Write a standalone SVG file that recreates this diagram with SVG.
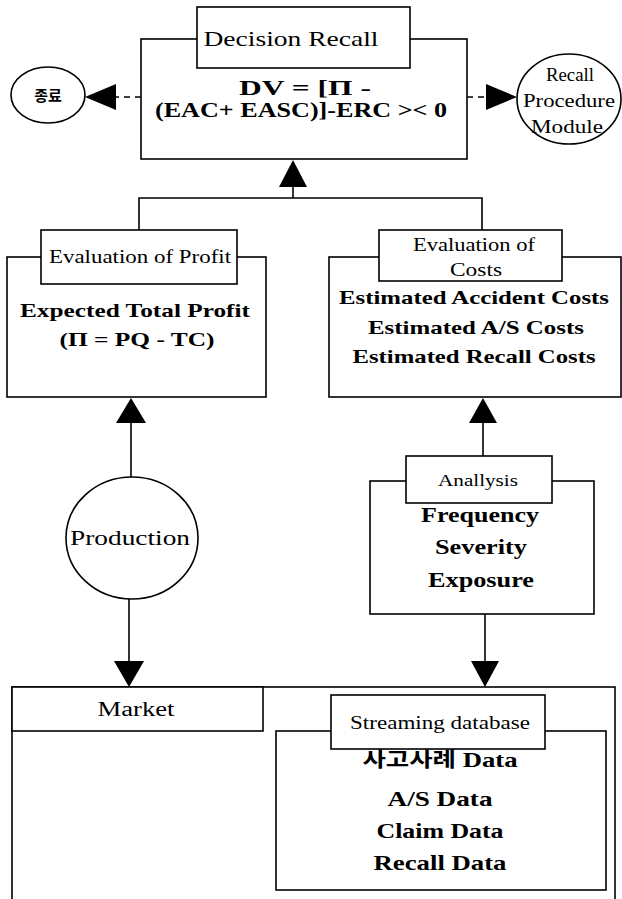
<svg xmlns="http://www.w3.org/2000/svg" width="622" height="899" viewBox="0 0 622 899">
<style>
.box{fill:#fff;stroke:#000;stroke-width:1.6}
.ln{fill:none;stroke:#000;stroke-width:1.6}
.dash{stroke-dasharray:6 5}
.ah{fill:#000;stroke:none}
.t{font-family:"Liberation Serif","Noto Sans CJK KR",serif;fill:#000;text-anchor:middle}
.b{font-weight:bold}
.k{font-family:"Noto Sans CJK KR","Liberation Serif",sans-serif;font-weight:bold}
</style>
<rect width="622" height="899" fill="#fff"/>
<g id="connectors">
  <line class="ln dash" x1="141" y1="97" x2="115" y2="97"/>
  <polygon class="ah" points="85,97 116,84 116,110"/>
  <line class="ln dash" x1="467" y1="97" x2="487" y2="97"/>
  <polygon class="ah" points="517,97 486,84 486,110"/>
  <polyline class="ln" points="139,230 139,198 482,198 482,230"/>
  <line class="ln" x1="293" y1="198" x2="293" y2="185"/>
  <polygon class="ah" points="293,160 279,187 307,187"/>
  <line class="ln" x1="131" y1="477" x2="131" y2="420"/>
  <polygon class="ah" points="131,398 116,423 146,423"/>
  <line class="ln" x1="483" y1="456" x2="483" y2="420"/>
  <polygon class="ah" points="483,398 469,423 497,423"/>
  <line class="ln" x1="129" y1="599" x2="129" y2="663"/>
  <polygon class="ah" points="129,687 114,661 144,661"/>
  <line class="ln" x1="485" y1="614" x2="485" y2="663"/>
  <polygon class="ah" points="485,687 471,661 499,661"/>
</g>
<g id="decision-recall">
  <rect class="box" x="141" y="39" width="326" height="120"/>
  <rect class="box" x="197" y="7" width="213" height="61"/>
  <text class="t" x="291" y="46" font-size="22" textLength="175" lengthAdjust="spacingAndGlyphs">Decision Recall</text>
  <text class="t b" x="305" y="95" font-size="20" textLength="132" lengthAdjust="spacingAndGlyphs">DV =  [Π -</text>
  <text class="t b" x="301" y="117" font-size="20" textLength="292" lengthAdjust="spacingAndGlyphs">(EAC+ EASC)]-ERC &gt;&lt; 0</text>
</g>
<g id="end">
  <ellipse class="box" cx="48" cy="95" rx="37" ry="28"/>
  <text class="t k" x="48" y="101" font-size="15">종료</text>
</g>
<g id="recall-procedure-module">
  <ellipse class="box" cx="569" cy="99" rx="52" ry="45"/>
  <text class="t" x="570" y="81" font-size="18" textLength="48" lengthAdjust="spacingAndGlyphs">Recall</text>
  <text class="t" x="569" y="107" font-size="18" textLength="92" lengthAdjust="spacingAndGlyphs">Procedure</text>
  <text class="t" x="567" y="133" font-size="18" textLength="72" lengthAdjust="spacingAndGlyphs">Module</text>
</g>
<g id="evaluation-profit">
  <rect class="box" x="7" y="257" width="259" height="140"/>
  <rect class="box" x="41" y="230" width="196" height="54"/>
  <text class="t" x="140" y="263" font-size="19" textLength="182" lengthAdjust="spacingAndGlyphs">Evaluation of Profit</text>
  <text class="t b" x="135" y="317" font-size="19" textLength="230" lengthAdjust="spacingAndGlyphs">Expected Total Profit</text>
  <text class="t b" x="137" y="346" font-size="19" textLength="155" lengthAdjust="spacingAndGlyphs">(Π =  PQ  -  TC)</text>
</g>
<g id="evaluation-costs">
  <rect class="box" x="329" y="257" width="292" height="140"/>
  <rect class="box" x="379" y="230" width="183" height="51"/>
  <text class="t" x="474" y="251" font-size="18" textLength="122" lengthAdjust="spacingAndGlyphs">Evaluation of</text>
  <text class="t" x="476" y="276" font-size="18" textLength="52" lengthAdjust="spacingAndGlyphs">Costs</text>
  <text class="t b" x="474" y="304" font-size="19" textLength="270" lengthAdjust="spacingAndGlyphs">Estimated Accident Costs</text>
  <text class="t b" x="476" y="334" font-size="19" textLength="216" lengthAdjust="spacingAndGlyphs">Estimated A/S Costs</text>
  <text class="t b" x="474" y="363" font-size="19" textLength="243" lengthAdjust="spacingAndGlyphs">Estimated Recall Costs</text>
</g>
<g id="production">
  <ellipse class="box" cx="132" cy="538" rx="66" ry="61"/>
  <text class="t" x="130" y="545" font-size="21" textLength="120" lengthAdjust="spacingAndGlyphs">Production</text>
</g>
<g id="analysis">
  <rect class="box" x="370" y="481" width="224" height="133"/>
  <rect class="box" x="406" y="456" width="146" height="47"/>
  <text class="t" x="478" y="486" font-size="17" textLength="80" lengthAdjust="spacingAndGlyphs">Anallysis</text>
  <text class="t b" x="480" y="522" font-size="20" textLength="118" lengthAdjust="spacingAndGlyphs">Frequency</text>
  <text class="t b" x="481" y="554" font-size="20" textLength="92" lengthAdjust="spacingAndGlyphs">Severity</text>
  <text class="t b" x="481" y="587" font-size="20" textLength="106" lengthAdjust="spacingAndGlyphs">Exposure</text>
</g>
<g id="market">
  <rect class="box" x="12" y="687" width="603" height="240"/>
  <rect class="box" x="12" y="687" width="251" height="44"/>
  <text class="t" x="136" y="716" font-size="20" textLength="77" lengthAdjust="spacingAndGlyphs">Market</text>
</g>
<g id="streaming-database">
  <rect class="box" x="276" y="731" width="330" height="159"/>
  <rect class="box" x="331" y="695" width="214" height="54"/>
  <text class="t" x="440" y="729" font-size="18" textLength="180" lengthAdjust="spacingAndGlyphs">Streaming database</text>
  <text class="t b" x="440" y="767" font-size="21" textLength="155" lengthAdjust="spacingAndGlyphs"><tspan class="k" font-size="20">사고사례</tspan> Data</text>
  <text class="t b" x="440" y="806" font-size="21" textLength="105" lengthAdjust="spacingAndGlyphs">A/S Data</text>
  <text class="t b" x="440" y="838" font-size="21" textLength="127" lengthAdjust="spacingAndGlyphs">Claim Data</text>
  <text class="t b" x="440" y="870" font-size="21" textLength="133" lengthAdjust="spacingAndGlyphs">Recall Data</text>
</g>
</svg>
